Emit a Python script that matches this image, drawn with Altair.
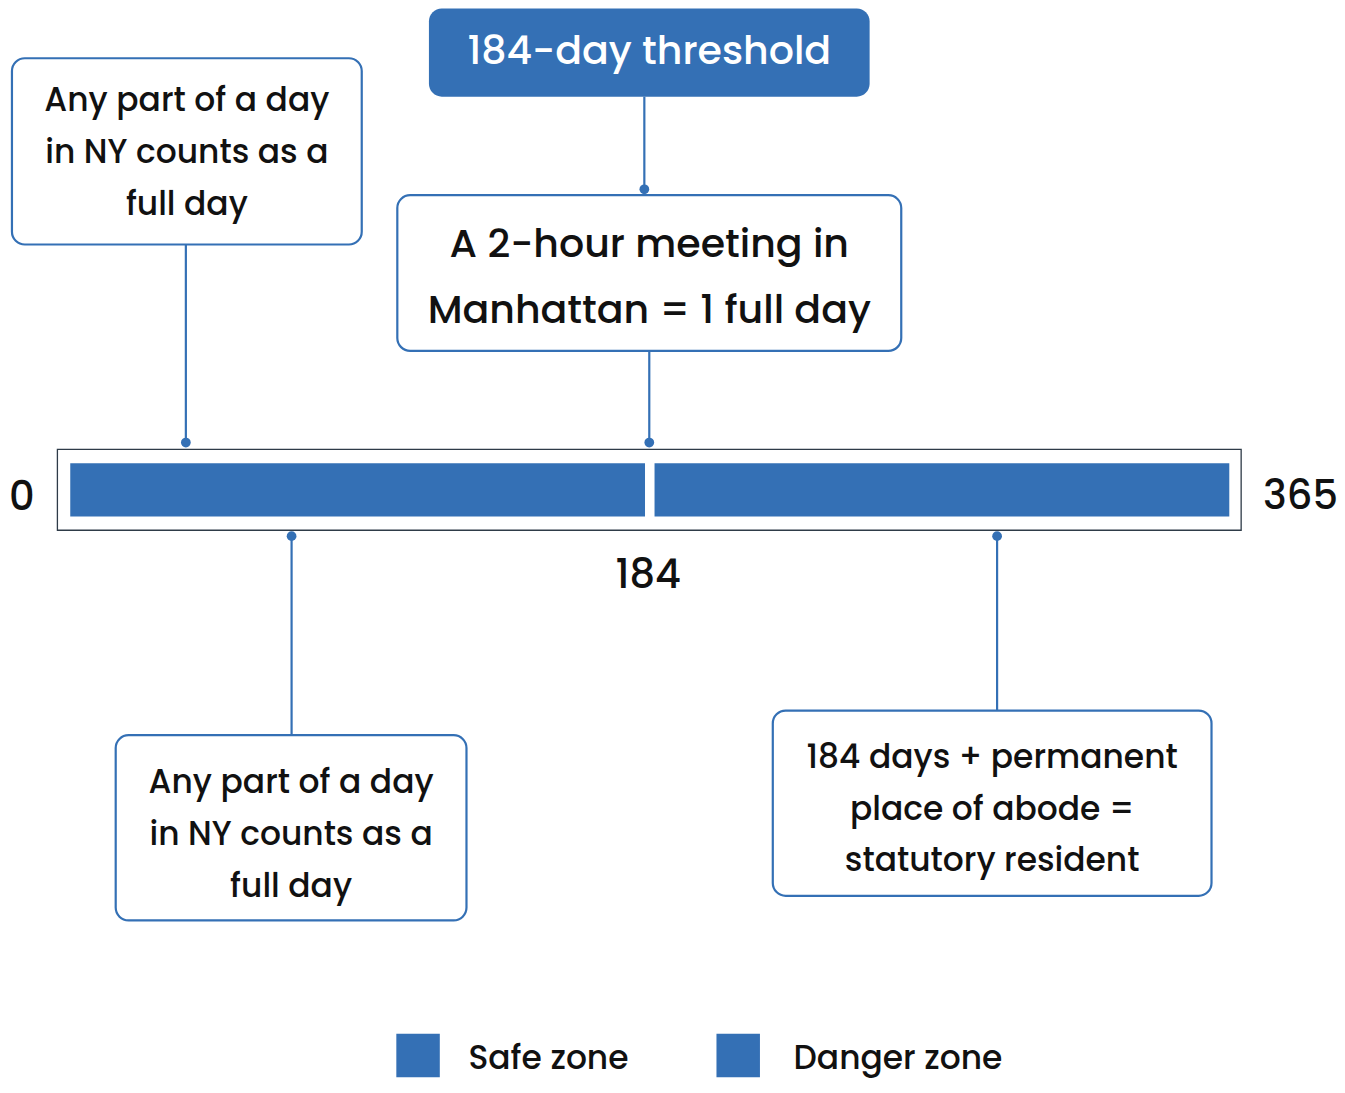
import altair as alt
import pandas as pd

# ---------------- data ----------------
ZONE_NAMES = ["Safe zone", "Danger zone"]
ZONE_START = [0, 184]
ZONE_END = [181, 365]
DAY_LABELS = [0, 184, 365]
THRESHOLD_TITLE = "184-day threshold"
NOTE_LINES = [
    ["A 2-hour meeting in", "Manhattan = 1 full day"],
    ["Any part of a day", "in NY counts as a", "full day"],
    ["Any part of a day", "in NY counts as a", "full day"],
    ["184 days + permanent", "place of abode =", "statutory resident"],
]

# ---------------- layout (reference pixels) ----------------
W, H = 1329, 1077
REF_W, REF_H = 1345, 1093
K = W / REF_W
BAR_PX0, BAR_PX1 = 63, 1236
PX_PER_DAY = (BAR_PX1 - BAR_PX0) / 365.0


def d(p):
    return (p - BAR_PX0) / PX_PER_DAY


BLUE = "#3470B5"
INK = "#111111"
FRAME = "#2e3b48"
FONT = "Poppins, Inter, sans-serif"

TITLE_BOX = (426, 872, 0.5, 90)
TITLE_TEXT_Y = 45
NOTE_BOX = [(394, 904, 190, 348), (4, 358, 51, 240), (109, 464, 738, 926), (774, 1218, 713, 901)]
NOTE_FIRST_Y = [241, 94, 787, 761]
NOTE_STEP = [67, 53, 52.5, 52.5]
NOTE_FS = [40, 33.3, 33.3, 33.3]
CONNECTORS = [  # x, y-from, y-to, dot y
    (644, 90, 184, 184),
    (649, 348, 441, 441),
    (180, 240, 441, 441),
    (287, 536, 738, 536),
    (1001, 536, 713, 536),
]
FRAME_BOX = (50, 1248, 448, 530)
BAR_Y = (462, 516)
DAY_LABEL_POS = [(14, 497), (648, 576), (1308, 496)]
LEGEND_SQ = [(415, 1063), (739, 1063)]
LEGEND_TXT_X = [466, 795]
LEGEND_Y = 1067

xs = alt.Scale(domain=[d(0), d(REF_W)], nice=False, zero=False)
ys = alt.Scale(domain=[0, REF_H], reverse=True, nice=False, zero=False)


def X(f):
    return alt.X(f, type="quantitative", scale=xs, axis=None)


def Y(f):
    return alt.Y(f, type="quantitative", scale=ys, axis=None)


# frame
frame_df = pd.DataFrame([{"x0": d(FRAME_BOX[0]), "x1": d(FRAME_BOX[1]), "y0": FRAME_BOX[2], "y1": FRAME_BOX[3]}])
frame = alt.Chart(frame_df).mark_rect(fill="white", stroke=FRAME, strokeWidth=1.3).encode(
    x=X("x0"), x2="x1", y=Y("y0"), y2="y1")

# zone bars
zones_df = pd.DataFrame({"zone": ZONE_NAMES, "start": ZONE_START, "end": ZONE_END,
                         "y0": BAR_Y[0], "y1": BAR_Y[1]})
bars = alt.Chart(zones_df).mark_rect(color=BLUE).encode(
    x=X("start"), x2="end", y=Y("y0"), y2="y1", tooltip=["zone", "start", "end"])

# day labels
lab_df = pd.DataFrame({"label": [str(v) for v in DAY_LABELS],
                       "x": [d(p[0]) for p in DAY_LABEL_POS],
                       "y": [p[1] for p in DAY_LABEL_POS]})
day_labels = alt.Chart(lab_df).mark_text(font=FONT, fontSize=40.5 * K, color=INK, align="center",
                                         baseline="middle", fontWeight=500).encode(
    x=X("x"), y=Y("y"), text="label")

# title box
tb_df = pd.DataFrame([{"x0": d(TITLE_BOX[0]), "x1": d(TITLE_BOX[1]), "y0": TITLE_BOX[2], "y1": TITLE_BOX[3],
                       "xc": d((TITLE_BOX[0] + TITLE_BOX[1]) / 2), "yc": TITLE_TEXT_Y, "t": THRESHOLD_TITLE}])
title_box = alt.Chart(tb_df).mark_rect(color=BLUE, cornerRadius=13 * K).encode(
    x=X("x0"), x2="x1", y=Y("y0"), y2="y1")
title_text = alt.Chart(tb_df).mark_text(font=FONT, fontSize=40 * K, color="white", align="center",
                                        baseline="middle", fontWeight=500).encode(
    x=X("xc"), y=Y("yc"), text="t")

# note boxes
nb_df = pd.DataFrame([{"x0": d(b[0]), "x1": d(b[1]), "y0": b[2], "y1": b[3]} for b in NOTE_BOX])
note_boxes = alt.Chart(nb_df).mark_rect(fill="white", stroke=BLUE, strokeWidth=2.2,
                                        cornerRadius=13 * K).encode(
    x=X("x0"), x2="x1", y=Y("y0"), y2="y1")

rows = []
for i, lines in enumerate(NOTE_LINES):
    b = NOTE_BOX[i]
    for j, ln in enumerate(lines):
        rows.append({"t": ln, "x": d((b[0] + b[1]) / 2), "y": NOTE_FIRST_Y[i] + j * NOTE_STEP[i],
                     "fs": NOTE_FS[i] * K})
nt_df = pd.DataFrame(rows)
note_text = alt.Chart(nt_df).mark_text(font=FONT, color=INK, align="center", baseline="middle",
                                       fontWeight=500).encode(
    x=X("x"), y=Y("y"), text="t", size=alt.Size("fs:Q", scale=None, legend=None))

# connectors
con_df = pd.DataFrame([{"x": d(c[0]), "y0": c[1], "y1": c[2], "yd": c[3]} for c in CONNECTORS])
con_lines = alt.Chart(con_df).mark_rule(color=BLUE, strokeWidth=2.2).encode(
    x=X("x"), y=Y("y0"), y2="y1")
con_dots = alt.Chart(con_df).mark_circle(color=BLUE, opacity=1, size=95).encode(
    x=X("x"), y=Y("yd"))

# legend
lg_df = pd.DataFrame({"zone": ZONE_NAMES, "sx": [d(p[0]) for p in LEGEND_SQ], "sy": [p[1] for p in LEGEND_SQ],
                      "tx": [d(p) for p in LEGEND_TXT_X], "ty": LEGEND_Y})
leg_sq = alt.Chart(lg_df).mark_square(color=BLUE, opacity=1, size=(44 * K) ** 2).encode(
    x=X("sx"), y=Y("sy"))
leg_txt = alt.Chart(lg_df).mark_text(font=FONT, fontSize=33.3 * K, color=INK, align="left",
                                     baseline="middle", fontWeight=500).encode(
    x=X("tx"), y=Y("ty"), text="zone")

chart = alt.layer(
    frame, bars, day_labels, con_lines, title_box, title_text, note_boxes, note_text, con_dots,
    leg_sq, leg_txt
).properties(width=W, height=H, padding=0, autosize=alt.AutoSizeParams(type="none")).configure_view(
    strokeWidth=0, stroke="transparent")

chart.save("out.html", embed_options={"renderer": "svg", "actions": False})
